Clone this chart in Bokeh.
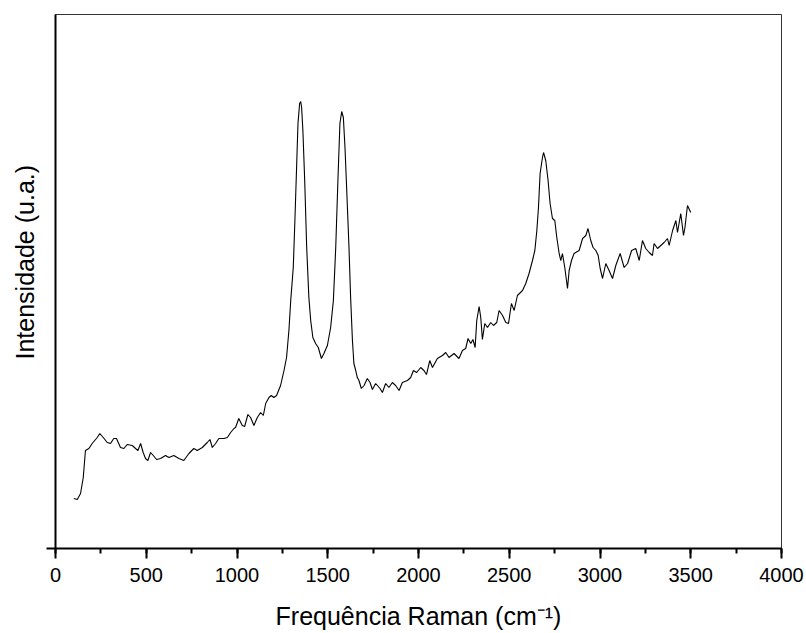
from bokeh.plotting import figure
from bokeh.models import Range1d, FixedTicker, Title
from bokeh.embed import file_html
from bokeh.resources import INLINE

# Raman shift (cm^-1) and intensity (arbitrary units)
raman_shift = [
    101, 120, 138, 153, 165, 184, 202, 230, 244, 263, 285, 303, 321, 336, 358, 377,
    395, 423, 441, 454, 469, 483, 496, 509, 524, 539, 557, 579, 606, 625, 652, 680,
    707, 735, 762, 781, 809, 836, 851, 864, 882, 900, 928, 947, 965, 983, 992, 1010,
    1029, 1042, 1060, 1075, 1093, 1112, 1130, 1145, 1158, 1176, 1189, 1203, 1218, 1240,
    1259, 1273, 1286, 1296, 1310, 1319, 1329, 1336, 1345, 1351, 1356, 1363, 1373, 1384,
    1396, 1406, 1418, 1433, 1448, 1465, 1479, 1498, 1516, 1531, 1544, 1556, 1567, 1577,
    1586, 1595, 1604, 1617, 1626, 1636, 1644, 1654, 1663, 1672, 1685, 1700, 1718, 1733,
    1746, 1764, 1788, 1801, 1819, 1837, 1856, 1874, 1893, 1911, 1939, 1957, 1972, 1990,
    2012, 2030, 2044, 2062, 2077, 2104, 2132, 2150, 2168, 2196, 2223, 2242, 2260, 2273,
    2288, 2300, 2312, 2321, 2334, 2343, 2352, 2365, 2380, 2398, 2413, 2431, 2444, 2463,
    2481, 2496, 2512, 2527, 2545, 2573, 2591, 2609, 2628, 2641, 2652, 2661, 2670, 2683,
    2689, 2701, 2714, 2725, 2738, 2751, 2762, 2775, 2784, 2793, 2806, 2821, 2830, 2843,
    2857, 2885, 2904, 2922, 2934, 2949, 2962, 2977, 2990, 3001, 3014, 3032, 3050, 3069,
    3087, 3111, 3133, 3152, 3174, 3197, 3216, 3234, 3252, 3271, 3289, 3298, 3317, 3335,
    3353, 3372, 3381, 3400, 3418, 3427, 3445, 3460, 3468, 3482, 3500,
]
intensity = [
    50, 49, 55, 71, 98, 100, 105, 111, 115, 111, 106, 105, 110, 110, 101, 100,
    104, 103, 100, 98, 105, 96, 90, 88, 96, 93, 89, 90, 93, 91, 93, 90,
    88, 95, 100, 98, 101, 106, 109, 101, 105, 110, 110, 111, 116, 120, 121, 130,
    123, 122, 134, 131, 123, 131, 136, 133, 145, 151, 153, 151, 153, 163,
    178, 191, 218, 248, 281, 328, 385, 425, 445, 447, 441, 418, 368, 301,
    251, 228, 211, 205, 201, 190, 195, 203, 221, 248, 301, 368, 425, 437,
    431, 401, 361, 301, 251, 208, 185, 178, 171, 168, 160, 163, 170, 166,
    159, 165, 160, 156, 165, 161, 166, 163, 158, 166, 168, 171, 178, 176,
    181, 178, 174, 188, 181, 190, 193, 196, 191, 195, 190, 198, 200, 210,
    205, 209, 201, 228, 242, 231, 209, 225, 221, 226, 223, 226, 238, 233,
    226, 225, 245, 238, 253, 258, 265, 275, 288, 298, 318, 341, 375, 391,
    396, 388, 368, 345, 330, 328, 311, 295, 288, 295, 281, 260, 278, 288,
    295, 298, 310, 313, 320, 308, 301, 298, 293, 280, 270, 285, 278, 270,
    283, 295, 281, 285, 298, 300, 288, 308, 300, 296, 293, 305, 300, 303,
    306, 310, 303, 318, 328, 316, 335, 313, 321, 343, 336,
]

x_label = "Frequência Raman (cm⁻¹)"
y_label = "Intensidade (u.a.)"
x_ticks = [0, 500, 1000, 1500, 2000, 2500, 3000, 3500, 4000]

FONT = "Liberation Sans"

p = figure(width=806, height=633, output_backend="svg", toolbar_location=None,
           x_range=Range1d(0, 4000), y_range=Range1d(0, 534),
           min_border_left=55, min_border_right=25, min_border_top=14,
           min_border_bottom=85)

p.line(raman_shift, intensity, line_color="black", line_width=1.1)

p.grid.visible = False
p.outline_line_color = "#333333"
p.outline_line_width = 1
p.background_fill_color = "white"
p.border_fill_color = "white"

xa = p.xaxis[0]
xa.ticker = FixedTicker(ticks=x_ticks, minor_ticks=list(range(0, 4001, 250)))
xa.axis_label = x_label
xa.axis_label_text_font = FONT
xa.axis_label_text_font_size = "25px"
xa.axis_label_text_font_style = "normal"
xa.axis_label_text_color = "black"
xa.axis_label_standoff = 17
xa.major_label_text_font = FONT
xa.major_label_text_font_size = "20px"
xa.major_label_text_color = "black"
xa.major_label_standoff = 9
xa.axis_line_width = 2
xa.axis_line_color = "black"
xa.major_tick_in = 0
xa.major_tick_out = 10
xa.minor_tick_in = 0
xa.minor_tick_out = 5
xa.major_tick_line_width = 2
xa.minor_tick_line_width = 2

ya = p.yaxis[0]
ya.ticker = FixedTicker(ticks=[0], minor_ticks=[])
ya.major_label_overrides = {0: ""}
ya.major_label_text_font_size = "0px"
ya.major_label_standoff = 0
ya.axis_label_standoff = 0
ya.axis_line_width = 2
ya.axis_line_color = "black"
ya.major_tick_in = 0
ya.major_tick_out = 9
ya.major_tick_line_width = 2

# y-axis title, a bit above the frame centre as in the reference
p.add_layout(Title(text=y_label, align="left", offset=189, standoff=15,
                   text_font=FONT, text_font_size="25px", text_line_height=0.85,
                   text_font_style="normal", text_color="black"), "left")

open("out.html", "w").write(file_html(p, INLINE))
